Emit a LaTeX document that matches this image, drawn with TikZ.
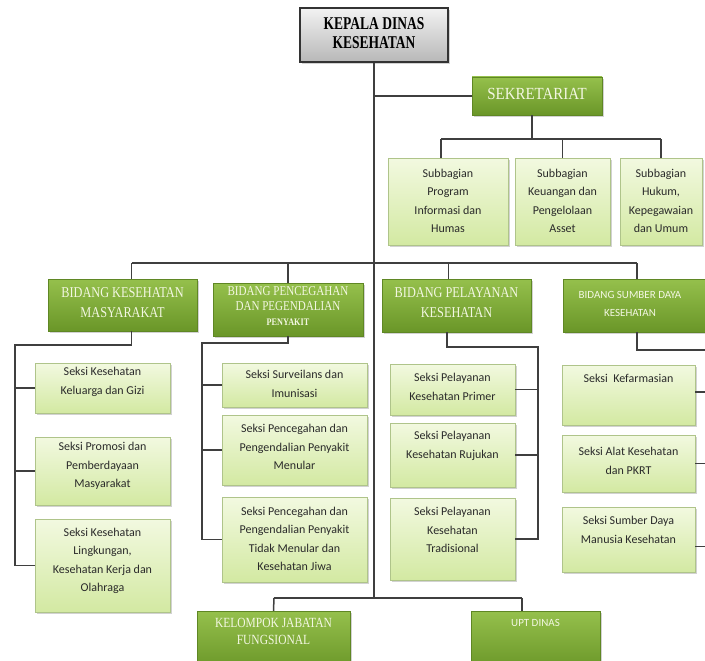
\documentclass[tikz,border=0pt]{standalone}
\usepackage{fontspec}
\setmainfont{Carlito}
\newfontfamily\subfont{Carlito}
\newfontfamily\condserif[FakeStretch=0.82]{Liberation Serif}
\newfontfamily\kepfont[FakeStretch=0.75]{Liberation Serif}
\newfontfamily\sekfont[FakeStretch=0.88]{Liberation Serif}
\usetikzlibrary{shadows}
\definecolor{linec}{HTML}{3F3F3F}
\definecolor{subtop}{HTML}{F2F9E0}
\definecolor{subbot}{HTML}{D3E9A2}
\definecolor{subedge}{HTML}{AFC48A}
\definecolor{bidtop}{HTML}{95C04C}
\definecolor{bidbot}{HTML}{6A9628}
\definecolor{bidtext}{HTML}{F3F7E2}
\definecolor{subtext}{HTML}{2A2A2A}
\tikzset{
  conn/.style={draw=linec, line width=1.5pt},
  shadowed/.style={drop shadow={opacity=0.35, shadow xshift=1.5pt, shadow yshift=-2pt}},
  subbox/.style={shadowed, top color=subtop, bottom color=subbot, draw=subedge, line width=0.8pt, inner sep=0pt},
  bidbox/.style={shadowed, top color=bidtop, bottom color=bidbot, draw=bidbot!90!black, line width=0.4pt, inner sep=0pt},
  kepbox/.style={shadowed, top color=white!95!black, bottom color=black!28, draw=black!80, line width=1.3pt, inner sep=0pt},
  subtxt/.style={align=center, text=subtext, inner sep=0pt, font=\subfont\fontsize{12}{18.5}\selectfont},
  bidtxt/.style={align=center, text=bidtext, inner sep=0pt, font=\condserif\fontsize{15}{20}\selectfont},
}
\begin{document}
\begin{tikzpicture}[x=1pt,y=-1pt]
\useasboundingbox (0,0) rectangle (705,661);
\clip (0,0) rectangle (705,661);
\fill[white] (0,0) rectangle (705,661);

% top
\node[kepbox, minimum width=148pt, minimum height=54pt] (kep) at (374,35) {};
\node[align=center, inner sep=0pt, font=\kepfont\bfseries\fontsize{18}{19}\selectfont] (kept) at (374,33.5) {KEPALA DINAS\\KESEHATAN};

\node[bidbox, minimum width=130pt, minimum height=38pt] (sek) at (537,96) {};
\node[text=bidtext, inner sep=0pt, font=\sekfont\fontsize{17}{20}\selectfont] (sekt) at (537,94) {SEKRETARIAT};

% subbagian
\node[subbox, minimum width=120pt, minimum height=87pt] (sb1) at (448,201.5) {};
\node[subtxt] (sb1t) at (448,201) {Subbagian\\Program\\Informasi dan\\Humas};
\node[subbox, minimum width=95pt, minimum height=87pt] (sb2) at (562.5,201.5) {};
\node[subtxt] (sb2t) at (562.5,201) {Subbagian\\Keuangan dan\\Pengelolaan\\Asset};
\node[subbox, minimum width=82pt, minimum height=87pt] (sb3) at (661,201.5) {};
\node[subtxt] (sb3t) at (661,201) {Subbagian\\Hukum,\\Kepegawaian\\dan Umum};

% bidang
\node[bidbox, minimum width=149pt, minimum height=52pt] (km) at (122.5,305) {};
\node[bidtxt] (kmt) at (122.5,303) {BIDANG KESEHATAN\\MASYARAKAT};
\node[bidbox, minimum width=150pt, minimum height=53pt] (pp) at (288,309.5) {};
\node[align=center, text=bidtext, inner sep=0pt, font=\condserif\fontsize{13.5}{15}\selectfont] (ppt) at (288,306) {BIDANG PENCEGAHAN\\DAN PEGENDALIAN\\{\fontsize{10}{12}\selectfont\bfseries PENYAKIT}};
\node[bidbox, minimum width=149pt, minimum height=53pt] (pl) at (456.5,305.5) {};
\node[bidtxt] (plt) at (456.5,302.5) {BIDANG PELAYANAN\\KESEHATAN};
\node[bidbox, minimum width=148pt, minimum height=53pt] (sd) at (637,305.5) {};
\node[align=center, text=bidtext, inner sep=0pt, font=\subfont\fontsize{11}{18}\selectfont] (sdt) at (630,304) {BIDANG SUMBER DAYA\\KESEHATAN};

% KM sections
\node[subbox, minimum width=135pt, minimum height=50pt] (km1) at (102.5,388) {};
\node[subtxt] (km1t) at (102.5,382) {Seksi Kesehatan\\Keluarga dan Gizi};
\node[subbox, minimum width=135pt, minimum height=68pt] (km2) at (102.5,471) {};
\node[subtxt] (km2t) at (102.5,466) {Seksi Promosi dan\\Pemberdayaan\\Masyarakat};
\node[subbox, minimum width=135pt, minimum height=93pt] (km3) at (102.5,565.5) {};
\node[subtxt] (km3t) at (102.5,561) {Seksi Kesehatan\\Lingkungan,\\Kesehatan Kerja dan\\Olahraga};

% P2P sections
\node[subbox, minimum width=145pt, minimum height=44pt] (pp1) at (294.5,385) {};
\node[subtxt] (pp1t) at (294.5,384) {Seksi Surveilans dan\\Imunisasi};
\node[subbox, minimum width=145pt, minimum height=70pt] (pp2) at (294.5,450) {};
\node[subtxt] (pp2t) at (294.5,447) {Seksi Pencegahan dan\\Pengendalian Penyakit\\Menular};
\node[subbox, minimum width=145pt, minimum height=85pt] (pp3) at (294.5,539.5) {};
\node[subtxt] (pp3t) at (294.5,539) {Seksi Pencegahan dan\\Pengendalian Penyakit\\Tidak Menular dan\\Kesehatan Jiwa};

% Pelayanan sections
\node[subbox, minimum width=125pt, minimum height=51pt] (pl1) at (452.5,389.5) {};
\node[subtxt] (pl1t) at (452.5,387) {Seksi Pelayanan\\Kesehatan Primer};
\node[subbox, minimum width=125pt, minimum height=64pt] (pl2) at (452.5,455) {};
\node[subtxt] (pl2t) at (452.5,446) {Seksi Pelayanan\\Kesehatan Rujukan};
\node[subbox, minimum width=125pt, minimum height=82pt] (pl3) at (452.5,539) {};
\node[subtxt] (pl3t) at (452.5,530) {Seksi Pelayanan\\Kesehatan\\Tradisional};

% SDK sections
\node[subbox, minimum width=133pt, minimum height=60pt] (sd1) at (628.5,395) {};
\node[subtxt] (sd1t) at (628.5,378) {Seksi\ \ Kefarmasian};
\node[subbox, minimum width=133pt, minimum height=57pt] (sd2) at (628.5,463.5) {};
\node[subtxt] (sd2t) at (628.5,461) {Seksi Alat Kesehatan\\dan PKRT};
\node[subbox, minimum width=133pt, minimum height=65pt] (sd3) at (628.5,539.5) {};
\node[subtxt] (sd3t) at (628.5,530) {Seksi Sumber Daya\\Manusia Kesehatan};

% bottom
\node[bidbox, minimum width=153pt, minimum height=59pt] (kel) at (273.5,640.5) {};
\node[align=center, text=bidtext, inner sep=0pt, font=\condserif\fontsize{14}{17}\selectfont] (kelt) at (273.5,631.5) {KELOMPOK JABATAN\\FUNGSIONAL};
\node[bidbox, minimum width=129pt, minimum height=59pt] (upt) at (535.5,640.5) {};
\node[text=bidtext, inner sep=0pt, font=\subfont\fontsize{11}{13}\selectfont] (uptt) at (535.5,623) {UPT DINAS};

% coordinates
\coordinate (mainbot) at (374,598);
\coordinate (sbL) at (441,139);
\coordinate (sbR) at (661,139);
\coordinate (bL) at (131.5,263);
\coordinate (bR) at (637,263);
\coordinate (kmA) at (15,345);
\coordinate (ppA) at (202,343);
\coordinate (plA) at (538,347);
\coordinate (sdA) at (705,350);
\coordinate (botL) at (274,598);
\coordinate (botR) at (522,598);

% connectors
\draw[conn] (kep.south) -- (mainbot);
\draw[conn] (kep.south |- sek.west) -- (sek.west);
\draw[conn] ([xshift=-5pt]sek.south) -- ([xshift=-5pt]sek.south |- sbL);
\draw[conn] (sbL) -- (sbR);
\draw[conn] (sbL) -- (sbL |- sb1.north);
\draw[conn] (sb2.north |- sbL) -- (sb2.north);
\draw[conn] (sbR) -- (sb3.north);

\draw[conn] (bL) -- (bR);
\draw[conn] (bL) -- (bL |- km.north);
\draw[conn] (pp.north |- bL) -- (pp.north);
\draw[conn] ([xshift=-8pt]pl.north |- bL) -- ([xshift=-8pt]pl.north);
\draw[conn] (bR) -- (sd.north);

\draw[conn] (bL |- km.south) |- (kmA) |- (km3.west);
\draw[conn] (kmA |- km1.west) -- (km1.west);
\draw[conn] (kmA |- km2.west) -- (km2.west);

\draw[conn] (pp.south) |- (ppA) |- (pp3.west);
\draw[conn] (ppA |- pp1.west) -- (pp1.west);
\draw[conn] (ppA |- pp2.west) -- (pp2.west);

\draw[conn] ([xshift=-9.5pt]pl.south) |- (plA) |- (pl3.east);
\draw[conn] (plA |- pl1.east) -- (pl1.east);
\draw[conn] (plA |- pl2.east) -- (pl2.east);

\draw[conn] (sd.south) |- (sdA);
\draw[conn] ([yshift=3pt]sd1.east) -- ([yshift=3pt]sd1.east -| sdA);
\draw[conn] (sd2.east) -- (sd2.east -| sdA);
\draw[conn] ([yshift=-7pt]sd3.east) -- ([yshift=-7pt]sd3.east -| sdA);

\draw[conn] (botL) -- (botR);
\draw[conn] (botL) -- (kel.north);
\draw[conn] (botR) -- (botR |- upt.north);
\end{tikzpicture}
\end{document}
